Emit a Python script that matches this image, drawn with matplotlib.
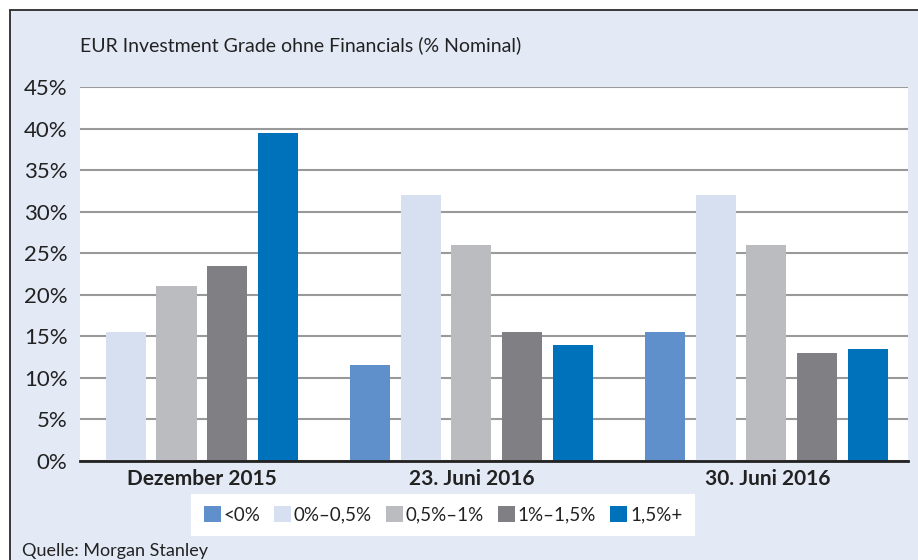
import numpy as np
import matplotlib
matplotlib.use('Agg')
import matplotlib.pyplot as plt
from matplotlib.patches import Rectangle

plt.rcParams['font.family'] = ['Lato', 'DejaVu Sans']

# Daten (Anteil in %)
categories = ['Dezember 2015', '23. Juni 2016', '30. Juni 2016']
series = ['<0%', '0%–0,5%', '0,5%–1%', '1%–1,5%', '1,5%+']
values = {
    '<0%':      [0, 11.5, 15.5],
    '0%–0,5%':  [15.5, 32, 32],
    '0,5%–1%':  [21, 26, 26],
    '1%–1,5%':  [23.5, 15.5, 13],
    '1,5%+':    [39.5, 14, 13.5],
}
colors = ['#6090CB', '#D7E0F1', '#BBBCC0', '#808084', '#0071BB']
yticks = [0, 5, 10, 15, 20, 25, 30, 35, 40, 45]

W, H = 918, 560
fig = plt.figure(figsize=(W / 100, H / 100), dpi=100)
fig.patch.set_facecolor('white')

# hellblauer Rahmen
fig.patches.append(Rectangle((10 / W, -0.05), 1.2, (H - 10) / H + 0.05,
                             transform=fig.transFigure, facecolor='#E3E9F5',
                             edgecolor='#2a2a2a', linewidth=1.3, zorder=-5))

ax = fig.add_axes([80 / W, (H - 461) / H, 828 / W, 374 / H])
ax.set_facecolor('white')

x = np.arange(len(categories))
step = 0.1715
width = 0.136
for i, s in enumerate(series):
    ax.bar(x + (i - 2) * step, values[s], width, color=colors[i], label=s, zorder=3)

ax.set_xlim(-0.327, 2.48)
ax.set_ylim(0, 45)
ax.set_yticks(yticks)
ax.set_yticklabels([f'{t}%' for t in yticks], fontsize=16, color='#222222')
ax.yaxis.grid(True, color='#999999', linewidth=1.5, zorder=0)
ax.tick_params(axis='y', length=0, pad=9)
ax.tick_params(axis='x', length=0, pad=6)
ax.set_xticks(x + np.array([0.086, 0, 0.005]))
ax.set_xticklabels(categories, fontsize=15, fontweight='bold', color='#222222')
for sp in ['left', 'right', 'top']:
    ax.spines[sp].set_visible(False)
ax.spines['bottom'].set_color('#222222')
ax.spines['bottom'].set_linewidth(2)
ax.spines['bottom'].set_zorder(4)

fig.text(80 / W, 1 - 45 / H, 'EUR Investment Grade ohne Financials (% Nominal)',
         fontsize=14, color='#222222', va='center', ha='left')
fig.text(22 / W, 1 - 551 / H, 'Quelle: Morgan Stanley', fontsize=13,
         color='#222222', va='center', ha='left')

leg = fig.legend(loc='center', bbox_to_anchor=(443 / W, 1 - 515 / H), ncol=5,
                 frameon=True, fancybox=False, fontsize=13.5, handlelength=0.9,
                 handleheight=0.9, handletextpad=0.15, columnspacing=0.75,
                 borderpad=0.65, borderaxespad=0, labelcolor='#222222')
leg.get_frame().set_facecolor('white')
leg.get_frame().set_edgecolor('white')
leg.get_frame().set_linewidth(0)
leg.get_frame().set_alpha(1)

fig.savefig('out.png', dpi=100)
